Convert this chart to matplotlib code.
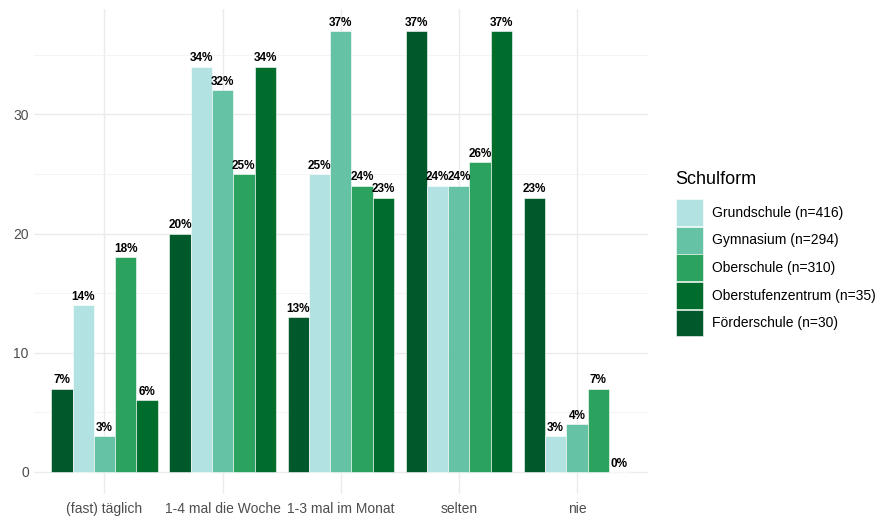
import matplotlib.pyplot as plt
from matplotlib.patches import Patch
import numpy as np

plt.rcParams['font.family'] = ['Liberation Sans', 'DejaVu Sans']

categories = ["(fast) täglich", "1-4 mal die Woche", "1-3 mal im Monat", "selten", "nie"]
schools = ["Förderschule", "Grundschule", "Gymnasium", "Oberschule", "Oberstufenzentrum"]
n_values = {"Grundschule": 416, "Gymnasium": 294, "Oberschule": 310,
            "Oberstufenzentrum": 35, "Förderschule": 30}
foerderschule = [7, 20, 13, 37, 23]
grundschule = [14, 34, 25, 24, 3]
gymnasium = [3, 32, 37, 24, 4]
oberschule = [18, 25, 24, 26, 7]
oberstufenzentrum = [6, 34, 23, 37, 0]
legend_order = ["Grundschule", "Gymnasium", "Oberschule", "Oberstufenzentrum", "Förderschule"]

colors = {"Förderschule": "#00592a", "Grundschule": "#b2e2e2", "Gymnasium": "#66c2a4",
          "Oberschule": "#2ca25f", "Oberstufenzentrum": "#006d2c"}
series = [foerderschule, grundschule, gymnasium, oberschule, oberstufenzentrum]

fig = plt.figure(figsize=(8.85, 5.2), dpi=100)
ax = fig.add_axes([0.038, 0.05, 0.694, 0.933])

x = np.arange(1, len(categories) + 1)
w = 0.18
for i, (name, vals) in enumerate(zip(schools, series)):
    pos = x - 0.45 + w / 2 + i * w
    ax.bar(pos, vals, width=w, color=colors[name], edgecolor="white", linewidth=0.4, zorder=2)
    for p, v in zip(pos, vals):
        ax.text(p, v + 0.2, f"{v}%", ha="center", va="bottom", fontsize=8.5,
                fontweight="bold", color="black", zorder=3)

ax.set_xlim(0.4, 5.6)
ax.set_ylim(-1.85, 38.85)
ax.set_xticks(x)
ax.set_xticklabels(categories)
ax.set_yticks([0, 10, 20, 30])
ax.set_yticks([5, 15, 25, 35], minor=True)
ax.grid(True, which="major", color="#ebebeb", linewidth=1.0, zorder=0)
ax.grid(True, which="minor", axis="y", color="#f2f2f2", linewidth=0.6, zorder=0)
ax.set_axisbelow(True)
for s in ax.spines.values():
    s.set_visible(False)
ax.tick_params(axis="both", which="both", length=0, labelsize=10, labelcolor="#4d4d4d")
ax.tick_params(axis="x", pad=6)

handles = [Patch(facecolor=colors[n], edgecolor="white", linewidth=0.4) for n in legend_order]
labels = [f"{n} (n={n_values[n]})" for n in legend_order]
leg = fig.legend(handles, labels, title="Schulform", loc="center left",
                 bbox_to_anchor=(0.757, 0.512), frameon=False, fontsize=10,
                 title_fontsize=13, handlelength=1.95, handleheight=2.6,
                 labelspacing=0.05, handletextpad=0.7, borderaxespad=0)
leg._legend_box.align = "left"
leg._legend_box.sep = 8

fig.savefig("out.png", dpi=100)
